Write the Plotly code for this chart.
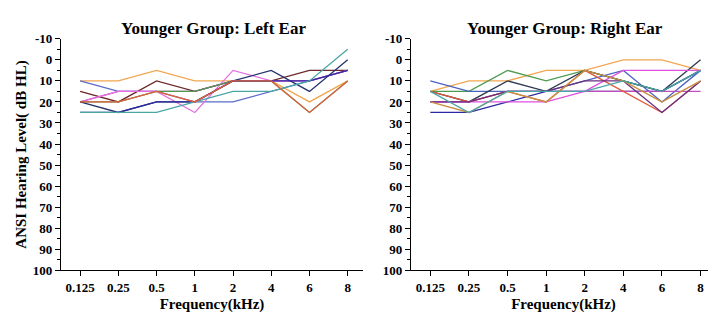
import plotly.graph_objects as go

freqs = ["0.125", "0.25", "0.5", "1", "2", "4", "6", "8"]
y_ticks = [-10, 0, 10, 20, 30, 40, 50, 60, 70, 80, 90, 100]
y_tick_labels = ["-10", "0", "10", "20", "30", "40", "50", "60", "70", "80", "90", "100"]

# Left ear thresholds (dB HL), one list per subject
left_orange = [10, 10, 5, 10, 10, 10, 20, 10]
left_blue = [10, 15, 15, 20, 20, 15, 10, 5]
left_brown = [15, 20, 10, 15, 10, 10, 5, 5]
left_magenta = [20, 15, 15, 15, 10, 10, 10, 5]
left_pink = [20, 15, 15, 25, 5, 10, 10, 5]
left_green = [20, 20, 15, 15, 10, 10, 25, 10]
left_darknavy = [20, 25, 20, 20, 10, 5, 15, 0]
left_navy = [25, 25, 20, 20, 10, 10, 10, 5]
left_teal = [25, 25, 25, 20, 15, 15, 10, -5]
left_red = [20, 20, 15, 20, 10, 10, 25, 10]

# Right ear thresholds (dB HL)
right_orange = [15, 10, 10, 5, 5, 0, 0, 5]
right_green = [15, 15, 5, 10, 5, 10, 15, 5]
right_blue = [10, 15, 15, 15, 10, 5, 20, 5]
right_slate = [15, 20, 10, 15, 5, 10, 15, 0]
right_navy = [25, 25, 20, 15, 15, 15, 15, 5]
right_magenta = [20, 20, 20, 20, 15, 5, 5, 5]
right_pink = [20, 20, 15, 15, 15, 15, 15, 15]
right_red = [15, 20, 15, 20, 5, 15, 25, 10]
right_purple = [20, 20, 15, 15, 10, 10, 25, 10]
right_tan = [20, 25, 15, 20, 5, 10, 20, 10]
right_teal = [15, 25, 15, 15, 15, 10, 15, 5]

left_series = [
    (left_orange, "#F2A650"), (left_blue, "#5A6CC8"), (left_brown, "#6E2A2A"),
    (left_magenta, "#C040C0"), (left_pink, "#E870E0"), (left_green, "#4E9A50"),
    (left_darknavy, "#25336E"), (left_navy, "#2A2AA0"), (left_teal, "#4AA6A6"),
    (left_red, "#E0603C"),
]
right_series = [
    (right_orange, "#F2A650"), (right_green, "#4E9A50"), (right_blue, "#4A62C0"),
    (right_slate, "#2E3A50"), (right_navy, "#2A2AA0"), (right_magenta, "#E050E0"),
    (right_pink, "#C04CC0"), (right_red, "#E05A3A"), (right_purple, "#6A3080"),
    (right_tan, "#C89040"), (right_teal, "#4AA6A6"),
]

fig = go.Figure()
for vals, col in left_series:
    fig.add_trace(go.Scatter(x=freqs, y=vals, mode="lines", line=dict(color=col, width=1.3),
                             xaxis="x", yaxis="y", showlegend=False))
for vals, col in right_series:
    fig.add_trace(go.Scatter(x=freqs, y=vals, mode="lines", line=dict(color=col, width=1.3),
                             xaxis="x2", yaxis="y2", showlegend=False))

font = "Liberation Serif"
tickfont = dict(family=font, size=13, color="black", weight="bold")
xcommon = dict(type="category", categoryorder="array", categoryarray=freqs,
               range=[-0.5, 7.4], showline=True, linecolor="black", linewidth=1.2,
               ticks="outside", ticklen=5, tickcolor="black", showgrid=False,
               zeroline=False, tickfont=tickfont,
               title=dict(text="<b>Frequency(kHz)</b>", font=dict(family=font, size=15, color="black"), standoff=4))
ycommon = dict(range=[100, -10], tickvals=y_ticks, ticktext=y_tick_labels, showline=True, linecolor="black",
               linewidth=1.2, ticks="outside", ticklen=5, tickcolor="black",
               showgrid=False, zeroline=False, tickfont=tickfont,
               minor=dict(dtick=5, ticks="outside", ticklen=3, tickcolor="black"))

fig.update_layout(
    width=716, height=316, margin=dict(l=0, r=0, t=0, b=0),
    paper_bgcolor="white", plot_bgcolor="white",
    xaxis=dict(domain=[53/716, 355/716], anchor="y", **xcommon),
    yaxis=dict(domain=[1-268/316, 1-25/316], anchor="x",
               title=dict(text="<b>ANSI Hearing Level( dB HL)</b>", font=dict(family=font, size=15, color="black"), standoff=2),
               **ycommon),
    xaxis2=dict(domain=[403/716, 708/716], anchor="y2", **xcommon),
    yaxis2=dict(domain=[1-268/316, 1-25/316], anchor="x2", **ycommon),
    annotations=[
        dict(text="<b>Younger Group: Left Ear</b>", x=205/716, y=1-14/316, xref="paper", yref="paper",
             showarrow=False, font=dict(family=font, size=17, color="black"), xanchor="center", yanchor="middle"),
        dict(text="<b>Younger Group: Right Ear</b>", x=557/716, y=1-14/316, xref="paper", yref="paper",
             showarrow=False, font=dict(family=font, size=17, color="black"), xanchor="center", yanchor="middle"),
    ],
)

fig.write_html("out.html")
